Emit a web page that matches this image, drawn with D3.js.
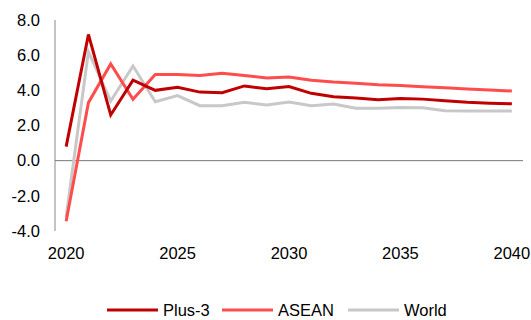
<!DOCTYPE html>
<html>
<head>
<meta charset="utf-8">
<script src="https://cdn.jsdelivr.net/npm/d3@7"></script>
<style>
  body { margin: 0; background: #fff; }
  svg text { font-family: "Liberation Sans", Arial, sans-serif; fill: #000; }
</style>
</head>
<body>
<div id="chart"></div>
<script>
// years on the category axis
var years = d3.range(2020, 2041);
var yTicks = [-4, -2, 0, 2, 4, 6, 8];

var plus3 = [0.8, 7.18, 2.6, 4.58, 4.0, 4.18, 3.9, 3.86, 4.25, 4.09, 4.22,
             3.83, 3.64, 3.56, 3.47, 3.54, 3.5, 3.41, 3.32, 3.27, 3.23];
var asean = [-3.45, 3.3, 5.5, 3.49, 4.9, 4.9, 4.85, 4.97, 4.85, 4.7, 4.76,
             4.57, 4.47, 4.4, 4.32, 4.28, 4.2, 4.14, 4.08, 4.02, 3.96];
var world = [-3.2, 6.2, 3.39, 5.38, 3.35, 3.7, 3.13, 3.13, 3.32, 3.16, 3.33,
             3.13, 3.22, 2.98, 2.98, 3.03, 3.01, 2.84, 2.82, 2.82, 2.82];

var seriesNames = ["Plus-3", "ASEAN", "World"];
var seriesColors = ["#c00000", "#ff4d4d", "#c8c8c8"];
var seriesValues = [plus3, asean, world];

var W = 531, H = 320;
var plotLeft = 55, plotRight = 523, plotTop = 20, plotBottom = 231;

var svg = d3.select("#chart").append("svg")
    .attr("width", W)
    .attr("height", H);

var x = d3.scalePoint()
    .domain(years)
    .range([plotLeft, plotRight])
    .padding(0.5);

var y = d3.scaleLinear()
    .domain([-4, 8])
    .range([plotBottom, plotTop]);

// y labels (plain hyphen minus, like the source)
svg.selectAll(".ylab")
    .data(yTicks)
  .enter().append("text")
    .attr("class", "ylab")
    .attr("x", 40)
    .attr("y", d => y(d))
    .attr("dy", "0.35em")
    .attr("text-anchor", "end")
    .style("font-size", "16.5px")
    .text(d => d.toFixed(1));

// x labels every 5 years
svg.selectAll(".xlab")
    .data(years.filter(d => d % 5 === 0))
  .enter().append("text")
    .attr("class", "xlab")
    .attr("x", d => x(d))
    .attr("y", 259)
    .attr("text-anchor", "middle")
    .style("font-size", "16.5px")
    .text(d => d);

// axis lines
svg.append("line")
    .attr("x1", plotLeft).attr("x2", plotLeft)
    .attr("y1", y(8)).attr("y2", y(-4))
    .attr("stroke", "#888").attr("stroke-width", 1);

svg.append("line")
    .attr("x1", plotLeft).attr("x2", plotRight)
    .attr("y1", y(0)).attr("y2", y(0))
    .attr("stroke", "#777").attr("stroke-width", 1);

var line = d3.line()
    .x((d, i) => x(years[i]))
    .y(d => y(d));

// draw World first so reds sit on top
[2, 1, 0].forEach(function(k) {
    svg.append("path")
        .datum(seriesValues[k])
        .attr("d", line)
        .attr("fill", "none")
        .attr("stroke", seriesColors[k])
        .attr("stroke-width", 3)
        .attr("stroke-linejoin", "miter");
});

// legend
var legendX = [107, 222, 348];
var legend = svg.append("g");
seriesNames.forEach(function(name, i) {
    legend.append("line")
        .attr("x1", legendX[i]).attr("x2", legendX[i] + 51)
        .attr("y1", 310).attr("y2", 310)
        .attr("stroke", seriesColors[i])
        .attr("stroke-width", 3);
    legend.append("text")
        .attr("x", legendX[i] + 56)
        .attr("y", 310)
        .attr("dy", "0.35em")
        .style("font-size", "16.5px")
        .text(name);
});
</script>
</body>
</html>
